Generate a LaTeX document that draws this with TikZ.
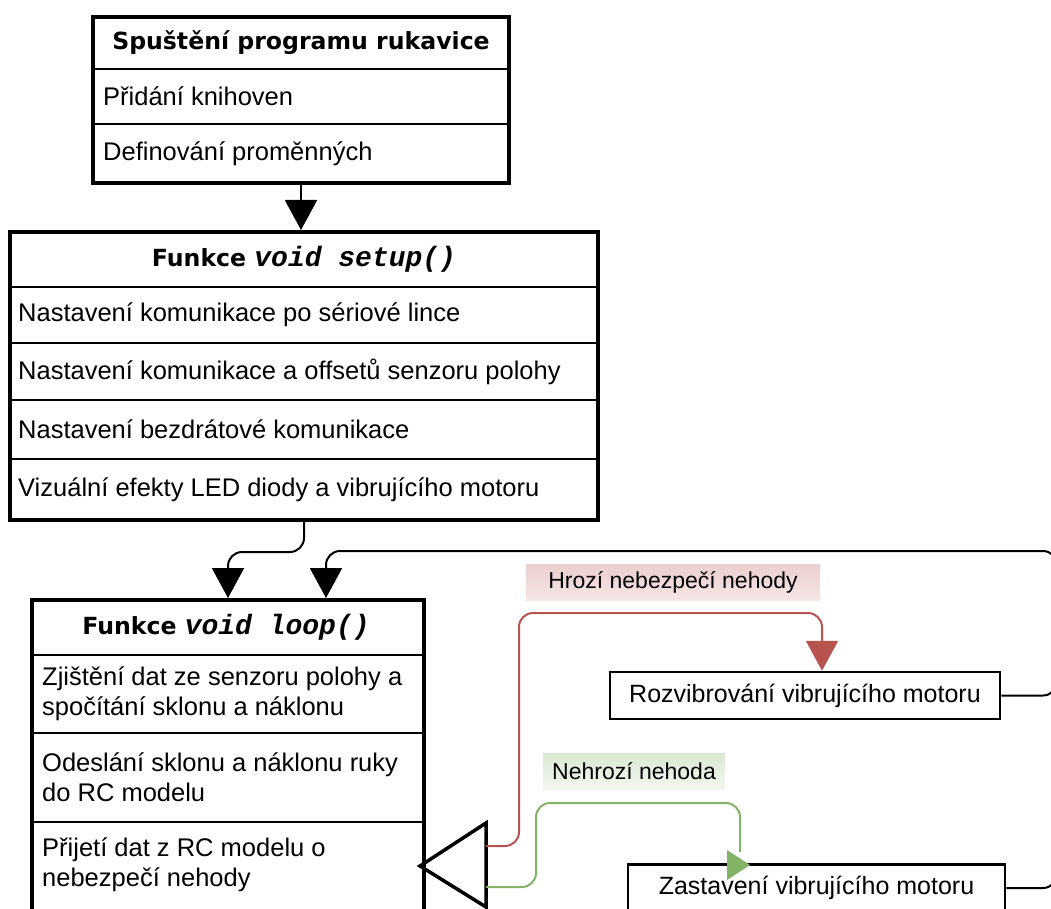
\documentclass[tikz,border=0pt]{standalone}
\usepackage{fontspec}
\setmainfont{Liberation Sans}
\setmonofont{Liberation Mono}
\newfontfamily\headfont{DejaVu Sans}
\usetikzlibrary{arrows.meta}
\definecolor{hrozred}{HTML}{B85450}
\definecolor{nehrozgreen}{HTML}{82B366}
\newcommand\code[1]{{\ttfamily\bfseries\itshape\fontsize{28}{28}\selectfont #1}}

\begin{document}
\begin{tikzpicture}[x=1pt,y=-1pt,
    frame/.style={draw,line width=4pt,inner sep=0pt},
    sep/.style={line width=2pt},
    item/.style={anchor=west,inner sep=0pt,align=left,font=\fontsize{25.5}{30}\selectfont},
    head/.style={inner sep=0pt,font=\headfont\bfseries\fontsize{23.6}{28}\selectfont},
    action/.style={draw,line width=2.5pt,inner sep=0pt,minimum height=47pt,font=\fontsize{25}{30}\selectfont},
    branch/.style={inner sep=0pt,minimum height=36pt,font=\fontsize{23}{28}\selectfont},
    link/.style={line width=2pt,rounded corners=14pt,-{Triangle[width=32pt,length=30pt]}}]
    \useasboundingbox (0,0) rectangle (1051,909);
    \clip (0,0) rectangle (1051,909);

    \node[frame,minimum width=416pt,minimum height=166pt] (start) at (301,100) {};
    \foreach \y in {69,124} \draw[sep] (93,\y) -- (509,\y);
    \node[head] (startT) at (301,43) {Spuštění programu rukavice};
    \node[item] (start1) at (103,96.5) {Přidání knihoven};
    \node[item] (start2) at (103,153.5) {Definování proměnných};

    \node[frame,minimum width=588pt,minimum height=288pt] (setup) at (304,376) {};
    \foreach \y in {287,343,400,459} \draw[sep] (10,\y) -- (598,\y);
    \node[head] (setupT) at (304,259.5) {Funkce \code{void setup()}};
    \node[item] (setup1) at (18,315) {Nastavení komunikace po sériové lince};
    \node[item] (setup2) at (18,371.5) {Nastavení komunikace a offsetů senzoru polohy};
    \node[item] (setup3) at (18,429.5) {Nastavení bezdrátové komunikace};
    \node[item] (setup4) at (18,489.5) {Vizuální efekty LED diody a vibrujícího motoru};

    \node[frame,minimum width=392pt,minimum height=350pt] (loop) at (228,775) {};
    \foreach \y in {655,733,822} \draw[sep] (32,\y) -- (424,\y);
    \node[head] (loopT) at (226,627.5) {Funkce \code{void loop()}};
    \node[item] (loop1) at (42,694) {Zjištění dat ze senzoru polohy a\\spočítání sklonu a náklonu};
    \node[item] (loop2) at (42,777.5) {Odeslání sklonu a náklonu ruky\\do RC modelu};
    \node[item] (loop3) at (42,865) {Přijetí dat z RC modelu o\\nebezpečí nehody};

    \draw[line width=3.5pt,line join=miter] (420,866) -- (486,823) -- (486,907) -- cycle;
    \coordinate (decR) at (486,846);
    \coordinate (decG) at (486,887);

    \node[action,minimum width=390pt] (rozv) at (805,695.5) {Rozvibrování vibrujícího motoru};
    \node[action,minimum width=377pt] (zast) at (816.5,888) {Zastavení vibrujícího motoru};

    \node[branch,minimum width=294pt,top color=hrozred!28,bottom color=hrozred!15] (hroz) at (673,582) {Hrozí nebezpečí nehody};
    \node[branch,minimum width=182pt,top color=nehrozgreen!30,bottom color=nehrozgreen!10] (nehroz) at (634,771) {Nehrozí nehoda};

    \draw[link] (start.south) -- (start.south |- setup.north);
    \draw[link] (setup.south) -- ++(0,30) -| (loop.north);
    \draw[link] (rozv.east) -- (1057,695.5) |- (326,551) -- ([xshift=98pt]loop.north);
    \draw[line width=2pt,rounded corners=14pt] (zast.east) -- (1057,888) -- (1057,700);
    \draw[link,hrozred] (decR) -- (519,846) |- (822,613) -- (rozv.north -| 822,0);
    \draw[line width=2pt,rounded corners=14pt,nehrozgreen] (decG) -- (536,887) |- (740,803) -- (740,852);
    \fill[nehrozgreen] (727,850) -- (750,865) -- (727,880) -- cycle;
\end{tikzpicture}
\end{document}
